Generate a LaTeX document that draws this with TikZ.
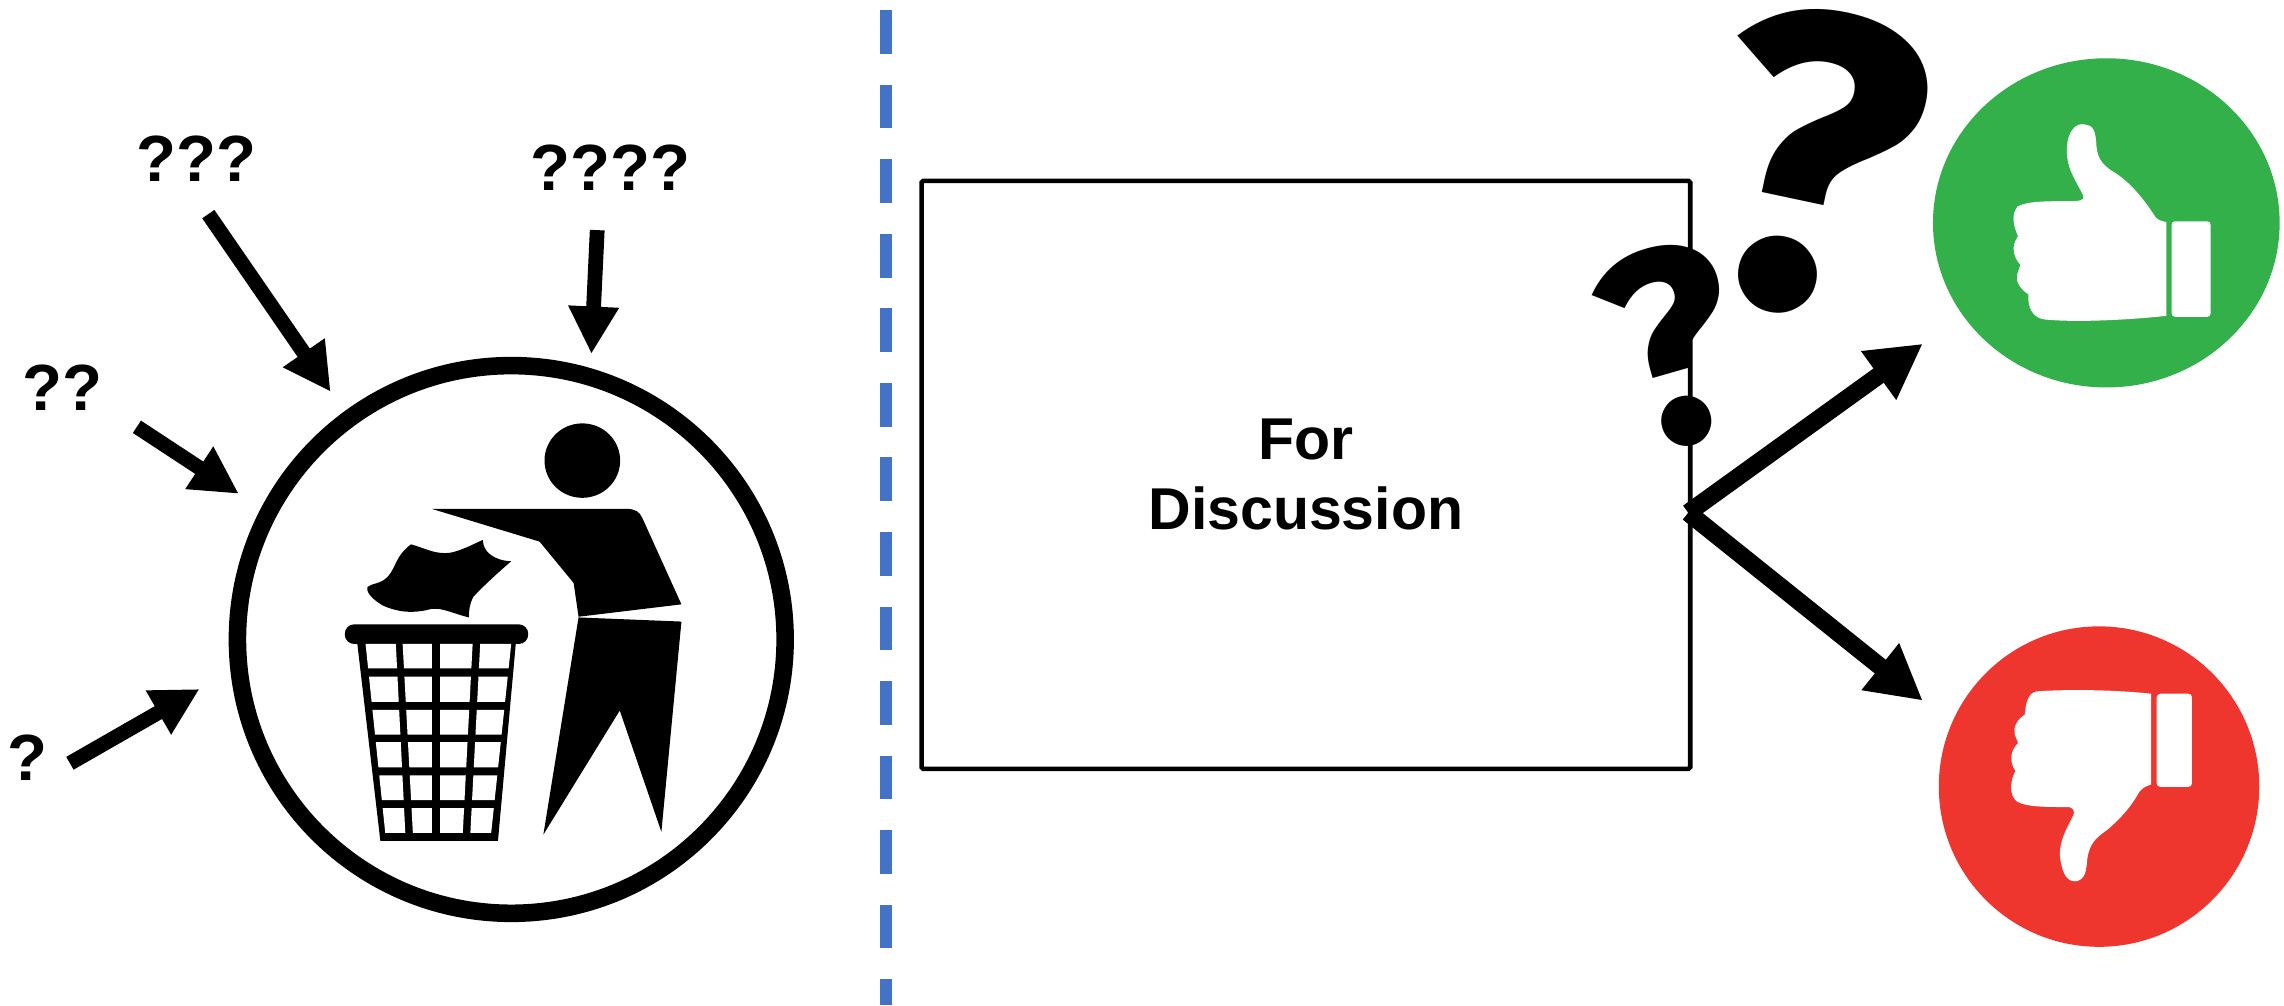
\documentclass[tikz,border=0pt]{standalone}
\usepackage{fontspec}
\setmainfont{Liberation Sans}
\newfontfamily\bigmarkfont{Fira Sans}
\usetikzlibrary{arrows.meta,positioning}
\definecolor{DividerBlue}{RGB}{68,114,196}
\definecolor{VoteGreen}{RGB}{51,176,74}
\definecolor{VoteRed}{RGB}{238,53,46}

\begin{document}
\begin{tikzpicture}[
    x=0.014566cm, y=-0.014566cm,
    marks/.style={inner sep=0pt, font=\fontsize{18.6pt}{19pt}\selectfont\bfseries},
    bigmark/.style={inner sep=0pt, font=\fontsize{121pt}{121pt}\bigmarkfont\bfseries},
    smallmark/.style={inner sep=0pt, font=\fontsize{79pt}{79pt}\bigmarkfont\bfseries},
    discbox/.style={draw, line width=1.3pt, rounded corners=0.5pt, minimum width=218.8pt, minimum height=167.4pt, align=center, font=\fontsize{16.8pt}{19.9pt}\selectfont\bfseries},
    inarrow/.style={-{Triangle[length=13.5pt,width=13.5pt]}, line width=4.2pt},
    outarrow/.style={-{Triangle[length=15.5pt,width=16pt]}, line width=5pt},
    divider/.style={draw=DividerBlue, line width=3.4pt, dash pattern=on 12.43pt off 8.79pt},
    binicon/.style={shift={(151,267.7)}, x=0.003783cm, y=-0.003443cm},
    upicon/.style={shift={(1057,0)}, x=0.00476cm, y=-0.00357cm},
    downicon/.style={shift={(1304.4,411.9)}, x=0.003333cm, y=-0.003333cm}
  ]
    \useasboundingbox (0,0) rectangle (1568,690);

    % divider
    \coordinate (divtop) at (608,7);
    \coordinate (divbot) at (608,690);
    \draw[divider] (divtop) -- (divbot);

    % left side
    \draw[line width=5pt] (351,439) circle (188);
    \node[marks] (q3) at (135,109) {???};
    \node[marks] (q4) at (419,115) {????};
    \node[marks] (q2) at (43,266) {??};
    \node[marks] (q1) at (19,520) {?};

    \coordinate (a3s) at (143,147);
    \coordinate (a3e) at (227,269);
    \coordinate (a4s) at (410,158);
    \coordinate (a4e) at (406,243);
    \coordinate (a2s) at (94,293);
    \coordinate (a2e) at (164,339);
    \coordinate (a1s) at (48,524);
    \coordinate (a1e) at (137,473);
    \draw[inarrow] (a3s) -- (a3e);
    \draw[inarrow] (a4s) -- (a4e);
    \draw[inarrow] (a2s) -- (a2e);
    \draw[inarrow] (a1s) -- (a1e);

    \begin{scope}[binicon]
      \fill (958,205) ellipse [x radius=100, y radius=108];
      \fill (560,345) -- (1075,345) .. controls (1098,345) and (1110,355) .. (1116,370) -- (1220,622) -- (948,658) -- (935,560) -- (845,440) -- cycle;
      \fill (948,660) -- (1220,672) -- (1167,1282) -- (1057,930) -- (855,1290) -- cycle;
      \fill (505,448) .. controls (550,462) and (570,478) .. (610,472) .. controls (640,465) and (665,450) .. (695,435) .. controls (695,470) and (725,495) .. (770,497) .. controls (735,530) and (700,565) .. (670,600) .. controls (660,620) and (658,640) .. (658,660) .. controls (620,650) and (590,632) .. (560,635) .. controls (510,650) and (470,645) .. (430,625) .. controls (410,612) and (385,590) .. (390,572) .. controls (400,560) and (425,565) .. (445,540) .. controls (465,515) and (465,480) .. (505,448) -- cycle;
      \fill (362,725) -- (783,725) -- (735,1308) -- (424,1308) -- cycle;
      \fill[rounded corners=2.7pt] (330,680) rectangle (815,737);
      \foreach \ya/\yb in {737/808, 832/905, 928/1000, 1022/1095, 1118/1190, 1213/1285}
        \foreach \ta/\tb/\ba/\bb in {385/465/437/490, 483/560/510/560, 582/668/582/642, 688/770/662/717}
          \fill[white] ({\ta+(\ba-\ta)/548*(\ya-737)},\ya) -- ({\tb+(\bb-\tb)/548*(\ya-737)},\ya) -- ({\tb+(\bb-\tb)/548*(\yb-737)},\yb) -- ({\ta+(\ba-\ta)/548*(\yb-737)},\yb) -- cycle;
    \end{scope}

    % right side
    \node[discbox] (disc) at (896.5,326) {For\\Discussion};
    \node[bigmark, rotate=-12, xscale=1.03] (bigq) at (1244,112) {?};
    \node[smallmark, rotate=16, xscale=1] (smallq) at (1148,238) {?};

    \coordinate (fork) at (1159,352);
    \coordinate (upend) at (1320,236);
    \coordinate (downend) at (1320,481);
    \draw[outarrow] (fork) -- (upend);
    \draw[outarrow] (fork) -- (downend);

    % thumbs
    \fill[VoteGreen] (1446,153) ellipse [x radius=119, y radius=113];
    \begin{scope}[upicon]
      \fill[white] (1142,548) .. controls (1125,500) and (1105,470) .. (1108,410) .. controls (1110,370) and (1125,348) .. (1140,348) .. controls (1165,350) and (1168,365) .. (1170,410) .. controls (1172,450) and (1190,470) .. (1210,485) .. controls (1250,520) and (1280,580) .. (1290,600) .. controls (1295,615) and (1305,620) .. (1317,622) -- (1317,885) .. controls (1250,895) and (1130,905) .. (1060,895) .. controls (1035,890) and (1025,860) .. (1027,825) .. controls (1010,810) and (1000,790) .. (1003,770) -- (1010,742) .. controls (995,720) and (990,690) .. (1005,662) .. controls (995,630) and (990,600) .. (1005,578) .. controls (1030,560) and (1090,565) .. (1130,563) .. controls (1140,562) and (1145,555) .. (1142,548) -- cycle;
      \fill[white, rounded corners=1pt] (1328,620) rectangle (1410,888);
    \end{scope}

    \fill[VoteRed] (1441,540) circle (110);
    \begin{scope}[downicon]
      \fill[white] (755,282) .. controls (650,270) and (500,268) .. (410,275) .. controls (385,280) and (378,310) .. (375,345) .. controls (350,360) and (340,385) .. (345,405) -- (355,430) .. controls (335,450) and (325,480) .. (347,515) .. controls (330,545) and (328,585) .. (350,605) .. controls (380,625) and (450,622) .. (510,623) .. controls (525,628) and (525,640) .. (520,650) .. controls (500,690) and (475,730) .. (482,780) .. controls (490,830) and (505,848) .. (530,846) .. controls (555,840) and (560,820) .. (563,780) .. controls (570,730) and (590,715) .. (625,690) .. controls (670,650) and (695,620) .. (715,585) .. controls (725,565) and (740,560) .. (755,555) -- cycle;
      \fill[white, rounded corners=1pt] (772,282) rectangle (878,562);
    \end{scope}
  \end{tikzpicture}
\end{document}
